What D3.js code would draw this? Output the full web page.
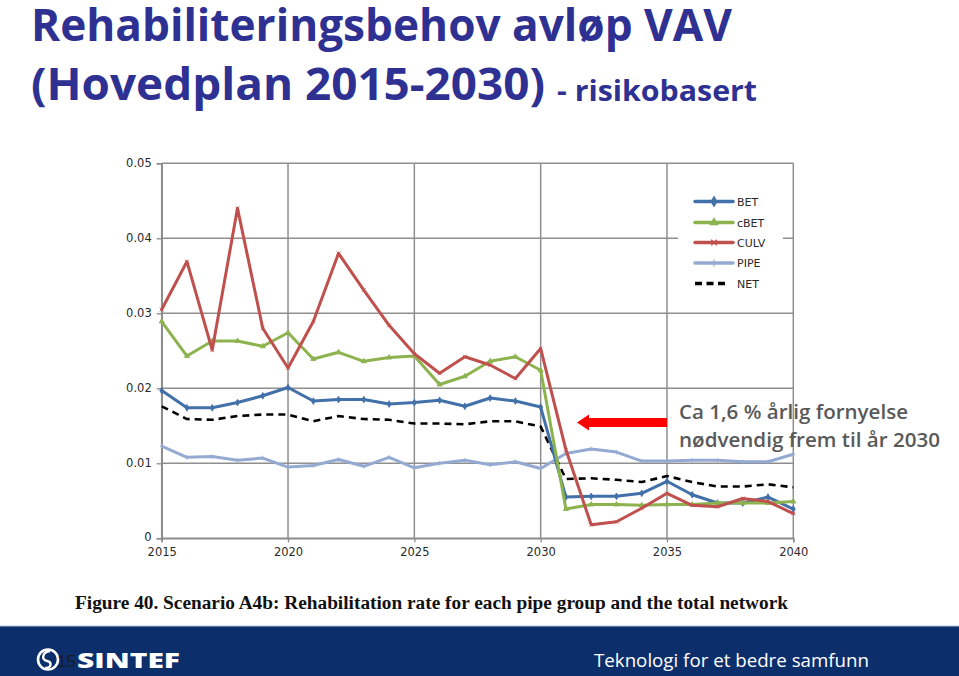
<!DOCTYPE html>
<html>
<head>
<meta charset="utf-8">
<script src="https://cdn.jsdelivr.net/npm/d3@7"></script>
<style>
  html,body{margin:0;padding:0;background:#fff;}
  svg{display:block;}
</style>
</head>
<body>
<svg id="chart" width="959" height="676"></svg>
<script>
// ---------- DATA ----------
const years = d3.range(2015, 2041);
const BET  = [0.0197,0.0174,0.0174,0.0181,0.0190,0.0201,0.0183,0.0185,0.0185,0.0179,0.0181,0.0184,0.0176,0.0187,0.0183,0.0175,
              0.0055,0.0056,0.0056,0.0060,0.0076,0.0058,0.0047,0.0047,0.0055,0.0039];
const cBET = [0.0289,0.0243,0.0263,0.0263,0.0256,0.0274,0.0239,0.0248,0.0236,0.0241,0.0243,0.0205,0.0216,0.0236,0.0242,0.0224,
              0.0039,0.0045,0.0045,0.0044,0.0045,0.0045,0.0047,0.0047,0.0047,0.0049];
const CULV = [0.0305,0.0369,0.0251,0.0440,0.0280,0.0227,0.0289,0.0380,0.0331,0.0284,0.0246,0.0220,0.0242,0.0231,0.0213,0.0253,
              0.0118,0.0018,0.0022,0.0040,0.0060,0.0044,0.0042,0.0053,0.0049,0.0033];
const PIPE = [0.0123,0.0108,0.0109,0.0104,0.0107,0.0095,0.0097,0.0105,0.0096,0.0108,0.0094,0.0100,0.0104,0.0098,0.0102,0.0093,
              0.0113,0.0119,0.0115,0.0103,0.0103,0.0104,0.0104,0.0102,0.0102,0.0112];
const NET  = [0.0176,0.0159,0.0158,0.0163,0.0165,0.0165,0.0156,0.0163,0.0159,0.0158,0.0153,0.0153,0.0152,0.0156,0.0156,0.0149,
              0.0079,0.0080,0.0078,0.0075,0.0083,0.0075,0.0069,0.0069,0.0072,0.0068];
const seriesNames = ["BET","cBET","CULV","PIPE","NET"];
const yTicks = [0,0.01,0.02,0.03,0.04,0.05];
const xTicks = [2015,2020,2025,2030,2035,2040];
const titleLine1 = "Rehabiliteringsbehov avløp VAV";
const titleLine2a = "(Hovedplan 2015-2030)";
const titleLine2b = "- risikobasert";
const annotation = ["Ca 1,6 % årlig fornyelse","nødvendig frem til år 2030"];
const caption = "Figure 40. Scenario A4b: Rehabilitation rate for each pipe group and the total network";
const footerText = "Teknologi for et bedre samfunn";
const pageNo = "15";

// ---------- STYLE ----------
const colors = {BET:"#4270a8", cBET:"#8db34f", CULV:"#c0504d", PIPE:"#95aad2", NET:"#000000"};
const markers = {BET:"diamond", cBET:"triangle", CULV:"cross", PIPE:"plus", NET:null};
const dataMap = {BET, cBET, CULV, PIPE, NET};

const svg = d3.select("#chart");

// Title
const titleColor = "#2e3192";
svg.append("text").attr("x",31).attr("y",41)
  .attr("font-family","'Open Sans', sans-serif").attr("font-weight",700).attr("font-size",44)
  .attr("fill",titleColor).attr("textLength",701).attr("lengthAdjust","spacingAndGlyphs")
  .text(titleLine1);
svg.append("text").attr("x",31).attr("y",100)
  .attr("font-family","'Open Sans', sans-serif").attr("font-weight",700).attr("font-size",44)
  .attr("fill",titleColor).attr("textLength",514).attr("lengthAdjust","spacingAndGlyphs")
  .text(titleLine2a);
svg.append("text").attr("x",557).attr("y",101)
  .attr("font-family","'Open Sans', sans-serif").attr("font-weight",700).attr("font-size",28)
  .attr("fill",titleColor).attr("textLength",200).attr("lengthAdjust","spacingAndGlyphs")
  .text(titleLine2b);

// Scales
const x = d3.scaleLinear().domain([2015,2040]).range([161.7,793.3]);
const y = d3.scaleLinear().domain([0,0.05]).range([538.3,163.3]);

const gridColor = "#8f8f8f";
// Gridlines
svg.append("g").selectAll("line").data(yTicks).join("line")
  .attr("x1",x(2015)).attr("x2",x(2040)).attr("y1",d=>y(d)).attr("y2",d=>y(d))
  .attr("stroke",gridColor).attr("stroke-width",1.5);
svg.append("g").selectAll("line").data(xTicks).join("line")
  .attr("x1",d=>x(d)).attr("x2",d=>x(d)).attr("y1",y(0)).attr("y2",y(0.05))
  .attr("stroke",gridColor).attr("stroke-width",1.5);

// Axes
const fmt = d => d===0 ? "0" : d.toFixed(2);
const yAxis = svg.append("g").attr("transform",`translate(${x(2015)},0)`)
  .call(d3.axisLeft(y).tickValues(yTicks).tickFormat(fmt).tickSize(5).tickPadding(5));
const xAxis = svg.append("g").attr("transform",`translate(0,${y(0)})`)
  .call(d3.axisBottom(x).tickValues(xTicks).tickFormat(d3.format("d")).tickSize(4).tickPadding(6));
[yAxis,xAxis].forEach(g=>{
  g.select(".domain").attr("stroke","#8a8a8a").attr("stroke-width",1.5);
  g.selectAll(".tick line").attr("stroke","#8a8a8a").attr("stroke-width",1.3);
  g.selectAll("text").attr("font-family","'DejaVu Sans', sans-serif").attr("font-size",11.5).attr("fill","#2a2a2a");
});
// nudge the zero label up slightly so it clears the year label
yAxis.selectAll(".tick").filter(d=>d===0).select("text").attr("dy","0.2em");

// Marker path helper
function markerPath(type, s){
  switch(type){
    case "diamond": return d3.symbol(d3.symbolDiamond, s*s*0.9)();
    case "triangle": return d3.symbol(d3.symbolTriangle, s*s*0.8)();
    case "cross": return `M${-s/2},${-s/2}L${s/2},${s/2}M${-s/2},${s/2}L${s/2},${-s/2}`;
    case "plus": return `M0,${-s/1.6}L0,${s/1.6}`;
  }
  return "";
}

// Lines
const line = d3.line().x((d,i)=>x(years[i])).y(d=>y(d));
const drawOrder = ["PIPE","NET","BET","cBET","CULV"];
drawOrder.forEach(name=>{
  const vals = dataMap[name];
  const p = svg.append("path").datum(vals).attr("d",line)
    .attr("fill","none").attr("stroke",colors[name]).attr("stroke-width",name==="NET"?2.6:3)
    .attr("stroke-linejoin","round").attr("stroke-linecap","round");
  if(name==="NET") p.attr("stroke-dasharray","7,5").attr("stroke-linecap","butt");
  if(markers[name]){
    svg.append("g").selectAll("path").data(vals).join("path")
      .attr("transform",(d,i)=>`translate(${x(years[i])},${y(d)})`)
      .attr("d",markerPath(markers[name],3.8))
      .attr("fill",colors[name]).attr("stroke",colors[name]).attr("stroke-width",0.8);
  }
});

// Legend
const lg = svg.append("g");
lg.append("rect").attr("x",678).attr("y",188).attr("width",105).attr("height",108).attr("fill","#fff");
const legendY = [201.5,222.5,242.5,263,283.5];
seriesNames.forEach((name,i)=>{
  const yy = legendY[i];
  const l = lg.append("line").attr("x1",695).attr("x2",733).attr("y1",yy).attr("y2",yy)
    .attr("stroke",colors[name]).attr("stroke-width",3.5).attr("stroke-linecap","round");
  if(name==="NET") l.attr("stroke-dasharray","7,4.5").attr("x2",729).attr("stroke-linecap","butt");
  if(markers[name]){
    lg.append("path").attr("transform",`translate(714,${yy})`)
      .attr("d",markerPath(markers[name],5.5))
      .attr("fill",colors[name]).attr("stroke",colors[name]).attr("stroke-width",1.2);
  }
  lg.append("text").attr("x",737).attr("y",yy+4)
    .attr("font-family","'DejaVu Sans', sans-serif").attr("font-size",11).attr("fill","#2a2a2a")
    .text(name);
});

// Annotation arrow
const arrow = svg.append("g");
arrow.append("path")
  .attr("d","M577,422.5 L589,414.5 L589,418 L667,418 L667,427 L589,427 L589,430.5 Z")
  .attr("fill","#ff0000");
annotation.forEach((t,i)=>{
  svg.append("text").attr("x",679).attr("y",[419,447][i])
    .attr("font-family","'Open Sans', sans-serif").attr("font-size",20).attr("font-weight",600)
    .attr("fill","#595959").attr("textLength",[229,261][i]).attr("lengthAdjust","spacingAndGlyphs")
    .text(t);
});

// Caption
svg.append("text").attr("x",75).attr("y",609)
  .attr("font-family","'Liberation Serif', serif").attr("font-weight",700).attr("font-size",18)
  .attr("fill","#111").attr("textLength",713).attr("lengthAdjust","spacingAndGlyphs")
  .text(caption);

// Footer
svg.append("rect").attr("x",0).attr("y",626).attr("width",959).attr("height",50).attr("fill","#0c2e6b");
svg.append("line").attr("x1",0).attr("x2",959).attr("y1",626).attr("y2",626).attr("stroke","#b9c3d6").attr("stroke-width",1);
// logo
const logo = svg.append("g");
logo.append("circle").attr("cx",48).attr("cy",659.5).attr("r",10).attr("fill","none").attr("stroke","#fff").attr("stroke-width",2.6);
logo.append("path").attr("d","M50,651 C42,652 41,660 47,661 C52,662 52,668 45,668").attr("fill","none").attr("stroke","#fff").attr("stroke-width",2.4);
svg.append("text").attr("x",77).attr("y",668)
  .attr("font-family","'Open Sans', sans-serif").attr("font-weight",800).attr("font-size",21)
  .attr("fill","#fff").attr("textLength",103).attr("lengthAdjust","spacingAndGlyphs")
  .text("SINTEF");
svg.append("text").attr("x",57).attr("y",667)
  .attr("font-family","'Liberation Sans', sans-serif").attr("font-size",17)
  .attr("fill","#1a1a1a").attr("fill-opacity",0.85)
  .text(pageNo);
svg.append("text").attr("x",594).attr("y",667)
  .attr("font-family","'Open Sans', sans-serif").attr("font-size",19)
  .attr("fill","#fff").attr("textLength",275).attr("lengthAdjust","spacingAndGlyphs")
  .text(footerText);
</script>
</body>
</html>
